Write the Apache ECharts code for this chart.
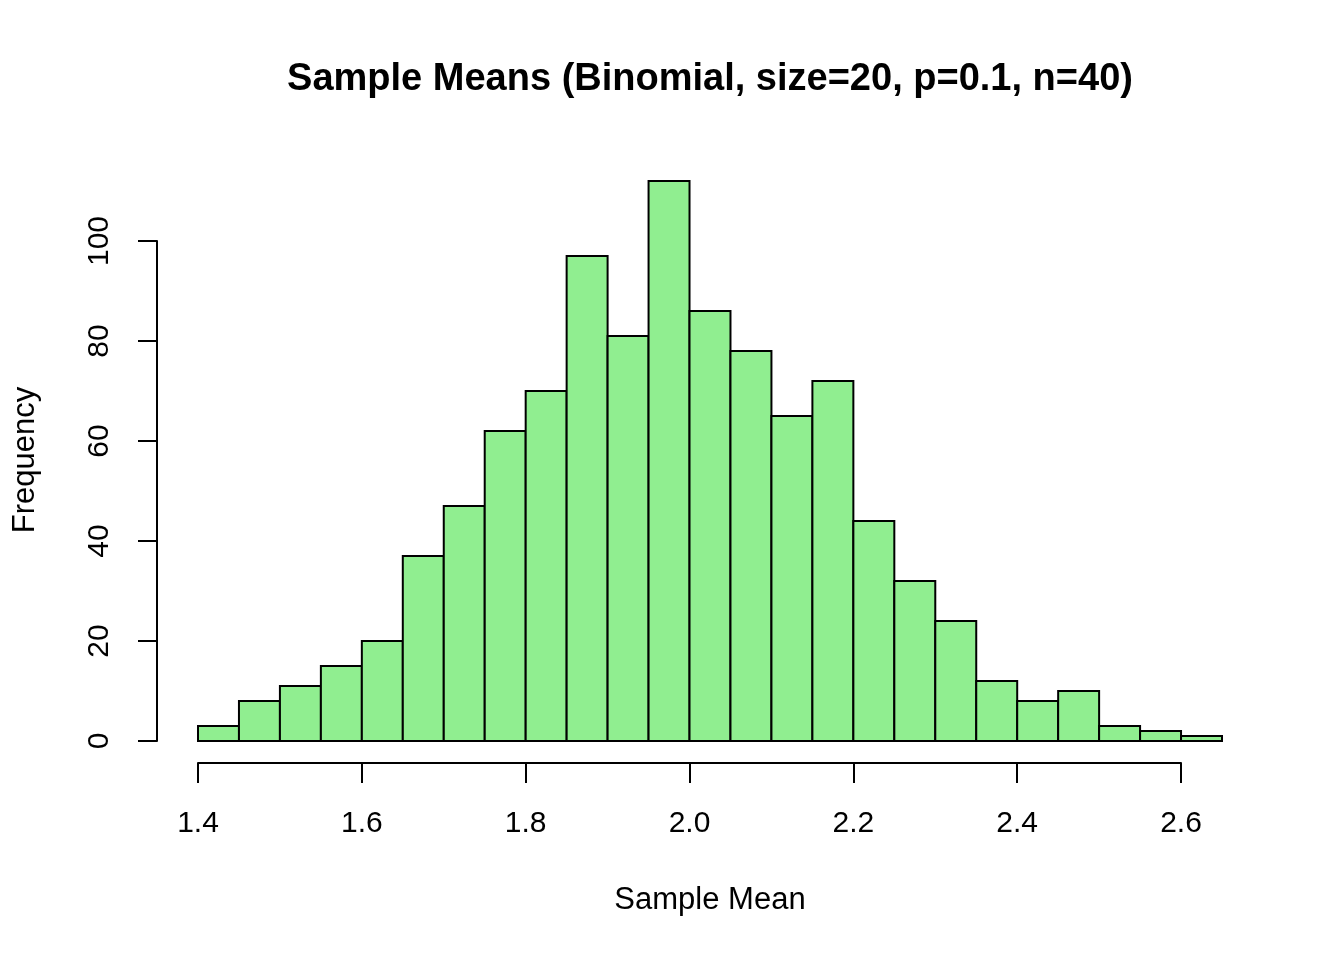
<!DOCTYPE html>
<html>
<head>
<meta charset="utf-8">
<script src="https://cdn.jsdelivr.net/npm/echarts@6/dist/echarts.min.js"></script>
<style>
  html, body { margin: 0; padding: 0; background: #fff; }
  #chart { width: 1344px; height: 960px; }
</style>
</head>
<body>
<div id="chart"></div>
<script>
// histogram bins (left edges + final right edge) and counts
const breaks = [1.40, 1.45, 1.50, 1.55, 1.60, 1.65, 1.70, 1.75, 1.80, 1.85, 1.90, 1.95, 2.00,
  2.05, 2.10, 2.15, 2.20, 2.25, 2.30, 2.35, 2.40, 2.45, 2.50, 2.55, 2.60, 2.65]
const counts = [3, 8, 11, 15, 20, 37, 47, 62, 70, 97, 81, 112, 86, 78, 65, 72, 44, 32, 24, 12, 8, 10, 3, 2, 1]
const xTicks = [1.4, 1.6, 1.8, 2.0, 2.2, 2.4, 2.6]
const yTicks = [0, 20, 40, 60, 80, 100]

const titleText = 'Sample Means (Binomial, size=20, p=0.1, n=40)'
const xName = 'Sample Mean'
const yName = 'Frequency'

const font = 'Liberation Sans, Arial, sans-serif'

// [start, end, count] per bar
const bins = counts.map((c, i) => [breaks[i], breaks[i + 1], c])

const chart = echarts.init(document.getElementById('chart'))

const axisStyle = {
  lineStyle: { color: '#000', width: 2 }
}

const option = {
  animation: false,
  backgroundColor: '#fff',
  grid: [
    // bars
    { left: 198, top: 141, width: 1024, height: 600, outerBoundsMode: 'none' },
    // detached R-style axes
    { left: 198, top: 241, width: 983, height: 500, outerBoundsMode: 'none' }
  ],
  xAxis: [
    { gridIndex: 0, type: 'value', min: 1.4, max: 2.65, show: false },
    {
      gridIndex: 1,
      type: 'value',
      min: 1.4,
      max: 2.6,
      interval: 0.2,
      offset: 22,
      splitLine: { show: false },
      axisLine: { show: true, onZero: false, ...axisStyle },
      axisTick: { show: true, length: 20, ...axisStyle },
      axisLabel: {
        margin: 46,
        color: '#000',
        fontSize: 30,
        fontFamily: font,
        formatter: v => xTicks.includes(Math.round(v * 10) / 10) ? v.toFixed(1) : ''
      }
    }
  ],
  yAxis: [
    { gridIndex: 0, type: 'value', min: 0, max: 120, show: false },
    {
      gridIndex: 1,
      type: 'value',
      min: 0,
      max: 100,
      interval: 20,
      offset: 41,
      splitLine: { show: false },
      axisLine: { show: true, onZero: false, ...axisStyle },
      axisTick: { show: true, length: 19, ...axisStyle },
      axisLabel: {
        margin: 42,
        rotate: 90,
        color: '#000',
        fontSize: 30,
        fontFamily: font,
        formatter: v => yTicks.includes(v) ? String(v) : ''
      }
    }
  ],
  series: [
    {
      type: 'custom',
      xAxisIndex: 0,
      yAxisIndex: 0,
      data: bins,
      encode: { x: [0, 1], y: 2 },
      renderItem: (params, api) => {
        const p0 = api.coord([api.value(0), api.value(2)])
        const p1 = api.coord([api.value(1), 0])
        return {
          type: 'rect',
          shape: { x: p0[0], y: p0[1], width: p1[0] - p0[0], height: p1[1] - p0[1] },
          style: { fill: '#90EE90', stroke: '#000', lineWidth: 2 }
        }
      }
    }
  ],
  graphic: [
    {
      type: 'text',
      x: 710,
      y: 80,
      style: {
        text: titleText,
        font: 'bold 38px ' + font,
        fill: '#000',
        align: 'center',
        verticalAlign: 'middle'
      }
    },
    {
      type: 'text',
      x: 710,
      y: 900,
      style: {
        text: xName,
        font: '31px ' + font,
        fill: '#000',
        align: 'center',
        verticalAlign: 'middle'
      }
    },
    {
      type: 'text',
      x: 25,
      y: 460,
      rotation: Math.PI / 2,
      style: {
        text: yName,
        font: '31px ' + font,
        fill: '#000',
        align: 'center',
        verticalAlign: 'middle'
      }
    }
  ]
}

chart.setOption(option)
</script>
</body>
</html>
